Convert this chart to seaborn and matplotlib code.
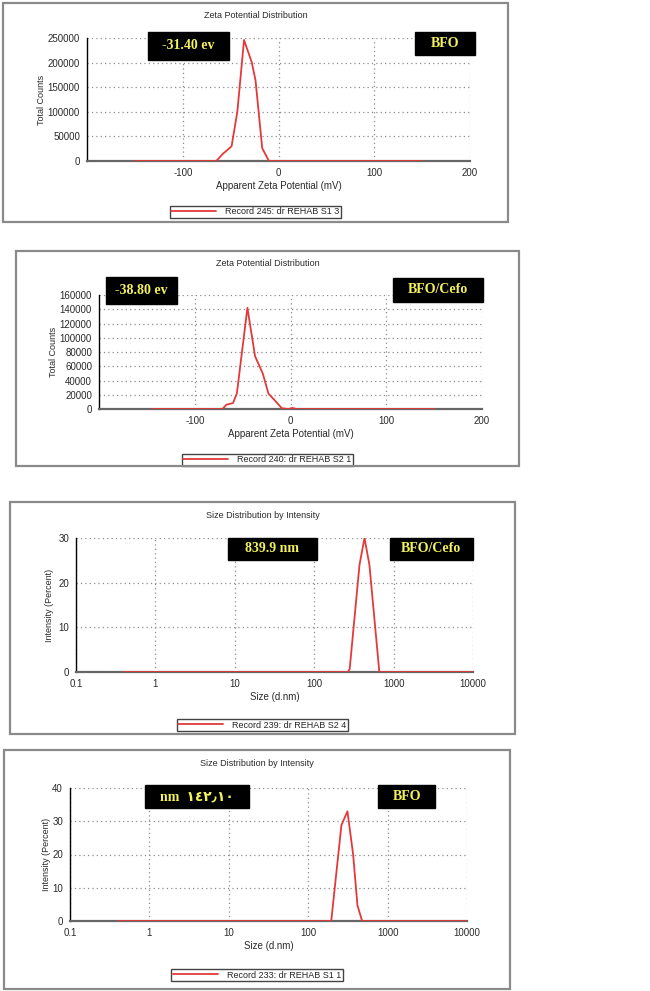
import numpy as np
import pandas as pd
import matplotlib
matplotlib.use('Agg')
import matplotlib.pyplot as plt
import seaborn as sns
from matplotlib.patches import Rectangle
from matplotlib.ticker import MultipleLocator, LogLocator, NullFormatter, FixedLocator

zeta_bfo_mv = [-150, -65, -58, -53, -49, -43, -36, -28, -24, -17, -10, 150]
zeta_bfo_counts = [0, 0, 14800, 23000, 30000, 100000, 246000, 201000, 164000, 26000, 0, 0]

zeta_cefo_mv = [-145, -71, -67, -60, -56, -45, -37, -29, -23, -17, -9, -2, 2, 6, 150]
zeta_cefo_counts = [0, 0, 6000, 8400, 22000, 142000, 74000, 50000, 21500, 13000, 1000, 0, 1500, 0, 0]

size_cefo_nm = [0.4, 266, 280, 372, 430, 496, 661, 10000]
size_cefo_int = [0, 0, 0.7, 24, 30, 24, 0, 0]

size_bfo_nm = [0.4, 195, 262, 312, 368, 417, 478, 10000]
size_bfo_int = [0, 0, 28.8, 33, 20, 4.7, 0, 0]

zeta_xticks = [-100, 0, 100, 200]
size_xticks = [0.1, 1, 10, 100, 1000, 10000]
size_xticklabels = ['0.1', '1', '10', '100', '1000', '10000']

W, H = 650, 991
RED = '#e23a3a'

sns.set_style('white')
plt.rcParams['font.family'] = ['Liberation Sans', 'DejaVu Sans']
plt.rcParams['axes.unicode_minus'] = False
BOXFONT = ['Liberation Serif', 'DejaVu Serif', 'DejaVu Sans']

fig = plt.figure(figsize=(W / 100, H / 100), dpi=100)


def px_axes(l, t, r, b):
    return fig.add_axes([l / W, 1 - b / H, (r - l) / W, (b - t) / H])


def frame(l, t, r, b):
    fig.add_artist(Rectangle((l / W, 1 - b / H), (r - l) / W, (b - t) / H,
                             transform=fig.transFigure, fill=False,
                             edgecolor='#8a8a8a', lw=1.6))


def label_box(ax, x0, x1, y0, y1, text):
    ax.add_patch(Rectangle((x0, y0), x1 - x0, y1 - y0, transform=ax.transAxes,
                           facecolor='black', edgecolor='black', clip_on=False, zorder=6))
    ax.text((x0 + x1) / 2, (y0 + y1) / 2, text, transform=ax.transAxes,
            ha='center', va='center', color='#f4f25c', fontsize=10,
            fontweight='bold', family=BOXFONT, zorder=7, clip_on=False)


def style_axes(ax):
    sns.despine(ax=ax, top=True, right=True)
    ax.spines['left'].set_color('black')
    ax.spines['left'].set_linewidth(1.0)
    ax.spines['bottom'].set_color('#666666')
    ax.spines['bottom'].set_linewidth(1.6)
    ax.grid(True, which='major', ls=(0, (1, 2.5)), color='#8c8c8c', lw=0.9)
    ax.tick_params(which='major', direction='out', length=3, width=0.8,
                   labelsize=7, colors='#2a2a2a', pad=2)
    ax.tick_params(which='minor', direction='inout', length=2.5, width=0.9, colors='#222222')
    ax.set_facecolor('white')


def legend_at(ax, xc, yc):
    ax.legend(loc='center', bbox_to_anchor=(xc / W, 1 - yc / H),
              bbox_transform=fig.transFigure, fontsize=6.5, frameon=True,
              fancybox=False, edgecolor='#444444', handlelength=5,
              borderpad=0.15, handletextpad=1.0, framealpha=1)


panels = [
    dict(frame=(3, 3, 508, 222), axes=(87, 38, 470, 161), title_y=15, leg_y=212,
         kind='zeta', x=zeta_bfo_mv, y=zeta_bfo_counts, ymax=250000, ystep=50000,
         label='Record 245: dr REHAB S1 3', ylpad=1,
         boxes=[((0.16, 0.37, 0.82, 1.05), '-31.40 ev'), ((0.856, 1.013, 0.86, 1.05), 'BFO')]),
    dict(frame=(16, 251, 519, 466), axes=(99, 295, 482, 409), title_y=263, leg_y=460,
         kind='zeta', x=zeta_cefo_mv, y=zeta_cefo_counts, ymax=160000, ystep=20000,
         label='Record 240: dr REHAB S2 1', ylpad=1,
         boxes=[((0.018, 0.204, 0.92, 1.16), '-38.80 ev'), ((0.768, 1.003, 0.94, 1.15), 'BFO/Cefo')]),
    dict(frame=(10, 502, 515, 734), axes=(76, 538, 473, 672), title_y=515, leg_y=725,
         kind='size', x=size_cefo_nm, y=size_cefo_int, ymax=30, ystep=10,
         label='Record 239: dr REHAB S2 4', ylpad=3,
         boxes=[((0.383, 0.606, 0.836, 1.0), '839.9 nm'), ((0.79, 1.0, 0.836, 1.0), 'BFO/Cefo')]),
    dict(frame=(4, 750, 510, 989), axes=(70, 788, 467, 921), title_y=763, leg_y=975,
         kind='size', x=size_bfo_nm, y=size_bfo_int, ymax=40, ystep=10,
         label='Record 233: dr REHAB S1 1', ylpad=1,
         boxes=[((0.19, 0.45, 0.85, 1.02), 'nm  \u0661\u0664\u0662\u066b\u0661\u0660'),
                ((0.776, 0.92, 0.85, 1.02), 'BFO')]),
]

for p in panels:
    frame(*p['frame'])
    ax = px_axes(*p['axes'])
    df = pd.DataFrame({'x': p['x'], 'y': p['y']})
    sns.lineplot(data=df, x='x', y='y', ax=ax, color=RED, lw=1.3,
                 label=p['label'], zorder=4, sort=False)
    style_axes(ax)
    if p['kind'] == 'zeta':
        ax.set_xlim(-200, 200)
        ax.xaxis.set_major_locator(FixedLocator(zeta_xticks))
        ax.xaxis.set_minor_locator(MultipleLocator(50))
        ax.set_ylim(0, p['ymax'])
        ax.yaxis.set_major_locator(MultipleLocator(p['ystep']))
        ax.yaxis.set_minor_locator(MultipleLocator(p['ystep'] / 2))
        ax.set_xlabel('Apparent Zeta Potential (mV)', fontsize=7, color='#2a2a2a', labelpad=2)
        ax.set_ylabel('Total Counts', fontsize=6.5, color='#2a2a2a', labelpad=p['ylpad'])
        title = 'Zeta Potential Distribution'
    else:
        ax.set_xscale('log')
        ax.set_xlim(0.1, 10000)
        ax.set_xticks(size_xticks)
        ax.set_xticklabels(size_xticklabels)
        ax.xaxis.set_minor_locator(LogLocator(base=10, subs=np.arange(2, 10)))
        ax.xaxis.set_minor_formatter(NullFormatter())
        ax.set_ylim(0, p['ymax'])
        ax.yaxis.set_major_locator(MultipleLocator(p['ystep']))
        ax.yaxis.set_minor_locator(MultipleLocator(p['ystep'] / 2))
        ax.set_xlabel('Size (d.nm)', fontsize=7, color='#2a2a2a', labelpad=2)
        ax.set_ylabel('Intensity (Percent)', fontsize=6.5, color='#2a2a2a', labelpad=p['ylpad'])
        title = 'Size Distribution by Intensity'
    l, t, r, b = p['frame']
    fig.text((l + r) / 2 / W, 1 - p['title_y'] / H, title, ha='center', va='center',
             fontsize=6.5, color='#2a2a2a')
    legend_at(ax, (l + r) / 2, p['leg_y'])
    for (x0, x1, y0, y1), txt in p['boxes']:
        label_box(ax, x0, x1, y0, y1, txt)

fig.savefig('out.png', dpi=100, facecolor='white')
